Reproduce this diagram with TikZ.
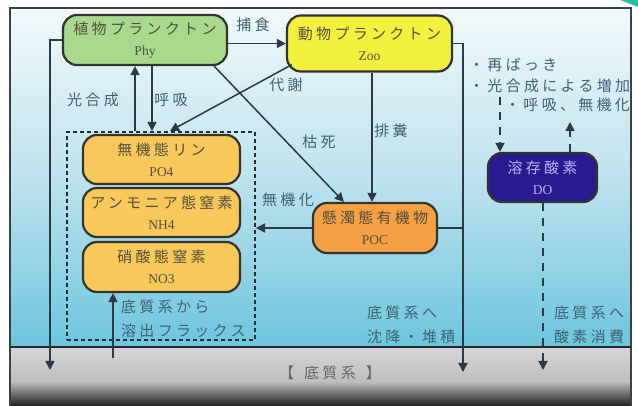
\documentclass[tikz,border=0pt]{standalone}
\usepackage{fontspec}
\setmainfont{Liberation Serif}
\newfontfamily\jp[LetterSpace=22]{Noto Sans CJK JP}
\usetikzlibrary{arrows.meta,calc}
\definecolor{wa}{HTML}{F2F9FB}
\definecolor{wb}{HTML}{BDE2EE}
\definecolor{wc}{HTML}{6CC5DD}
\definecolor{sa}{HTML}{D6D6D6}
\definecolor{sb}{HTML}{BEBEBE}
\definecolor{sc}{HTML}{1E1E1E}
\definecolor{edge}{HTML}{33342C}
\definecolor{lnc}{HTML}{2C3A44}
\definecolor{lab}{HTML}{3F6272}
\definecolor{ntx}{HTML}{55503E}
\definecolor{phyc}{HTML}{A8D98C}
\definecolor{zooc}{HTML}{F4F03E}
\definecolor{nutc}{HTML}{F8C85A}
\definecolor{pocc}{HTML}{F5A043}
\definecolor{doc}{HTML}{2A1A92}
\definecolor{dotx}{HTML}{B4B4EC}
\definecolor{teal}{HTML}{22C2A2}
\definecolor{frame}{HTML}{3A4248}
\newcommand{\lat}[1]{{\fontsize{13.5}{14}\selectfont #1}}
\begin{document}
\begin{tikzpicture}[x=1pt,y=-1pt,
  box/.style={draw=edge, line width=2.2pt, rounded corners=14pt, inner sep=0pt,
    align=center, text=ntx, font=\fontsize{15}{21}\selectfont},
  ln/.style={draw=lnc, line width=1.5pt},
  arr/.style={-{Triangle[length=9pt,width=9pt]}},
  dsh/.style={dash pattern=on 8pt off 7pt},
  lbl/.style={text=lab, font=\fontsize{15}{24}\selectfont\jp, inner sep=0pt},
  lbll/.style={lbl, anchor=west, align=left}]
\useasboundingbox (0,0) rectangle (638,406);
% background
\fill[white] (0,0) rectangle (638,406);
\shade[top color=wa, bottom color=wb] (10,8) rectangle (631,180);
\shade[top color=wb, bottom color=wc] (10,179.5) rectangle (631,347);
\shade[top color=sa, bottom color=sb] (10,347) rectangle (631,382);
\shade[top color=sb, bottom color=sc] (10,381.5) rectangle (631,406);
\draw[frame, line width=2pt] (10,406) -- (10,8) -- (631,8) -- (631,406);
\draw[black!85, line width=1.5pt] (10,347) -- (631,347);
\fill[teal] (620,0) -- (638,0) -- (638,7) -- cycle;

% nodes
\node[box, fill=phyc, minimum width=164pt, minimum height=50pt] (phy) at (145,40)
  {{\jp 植物プランクトン}\\\lat{Phy}};
\node[box, fill=zooc, minimum width=165pt, minimum height=56pt] (zoo) at (369.5,43.5)
  {{\jp 動物プランクトン}\\\lat{Zoo}};
\node[draw=lnc!80!black, line width=2pt, dash pattern=on 4pt off 3pt,
  minimum width=188pt, minimum height=208pt, inner sep=0pt] (nut) at (161,236) {};
\node[box, fill=nutc, minimum width=157pt, minimum height=49pt] (po4) at (161.5,159.5)
  {{\jp 無機態リン}\\\lat{PO4}};
\node[box, fill=nutc, minimum width=157pt, minimum height=49pt] (nh4) at (161.5,212.5)
  {{\jp アンモニア態窒素}\\\lat{NH4}};
\node[box, fill=nutc, minimum width=157pt, minimum height=50pt] (no3) at (161.5,267)
  {{\jp 硝酸態窒素}\\\lat{NO3}};
\node[box, fill=pocc, minimum width=124pt, minimum height=50pt] (poc) at (375,228)
  {{\jp 懸濁態有機物}\\\lat{POC}};
\node[box, fill=doc, text=dotx, minimum width=109pt, minimum height=49pt] (do) at (542.5,177.5)
  {{\jp 溶存酸素}\\\lat{DO}};

% helper coordinates
\coordinate (pL) at (50,370);
\coordinate (zR) at (463,372);
\coordinate (xPh) at (135,0);
\coordinate (xRs) at (152,0);
\coordinate (xMe) at (170,0);
\coordinate (xEx) at (372,0);
\coordinate (fl0) at (113,358);
\coordinate (doA) at (500,97);
\coordinate (doB) at (570,122);
\coordinate (doC) at (543,370);

% connectors
\draw[ln,arr] (zoo.west -| phy.east) -- (zoo.west);
\draw[ln,arr] (phy.west) -| (pL);
\draw[ln,arr] (zoo.east) -| (zR);
\draw[ln] (poc.east) -- (poc.east -| zR);
\draw[ln,arr] (xPh |- nut.north) -- (xPh |- phy.south);
\draw[ln,arr] (xRs |- phy.south) -- (xRs |- nut.north);
\draw[ln,arr] ($(zoo.south west)+(6,-8)$) -- (xMe |- nut.north);
\draw[ln,arr] ($(phy.south east)+(-14,0)$) -- ($(poc.north west)+(32,0)$);
\draw[ln,arr] (xEx |- zoo.south) -- (xEx |- poc.north);
\draw[ln,arr] (poc.west) -- (poc.west -| nut.east);
\draw[ln,arr] (fl0) -- (fl0 |- no3.south);
\draw[ln,arr,dsh] (doA) -- (doA |- do.north);
\draw[ln,arr,dsh] (doB |- do.north) -- (doB);
\draw[ln,arr,dsh] (doC |- do.south) -- (doC);

% labels
\node[lbl] (l1) at (253,25) {捕食};
\node[lbl] (l2) at (93,100) {光合成};
\node[lbl] (l3) at (171,100) {呼吸};
\node[lbl] (l4) at (286,85) {代謝};
\node[lbl] (l5) at (319,142) {枯死};
\node[lbl] (l6) at (391,131) {排糞};
\node[lbl] (l7) at (288,200) {無機化};
\node[lbll] (l8) at (121,319) {底質系から\\溶出フラックス};
\node[lbll] (l9) at (367,325) {底質系へ\\沈降・堆積};
\begin{scope}
\clip (10,8) rectangle (630,406);
\node[lbll] (l10) at (469,65) {・再ばっき};
\node[lbll] (l11) at (469,86) {・光合成による増加};
\node[lbll] (l12) at (505,105) {・呼吸、無機化};
\node[lbll] (l13) at (554,325) {底質系へ\\酸素消費};
\end{scope}
\node[lbl, text=black!60] (l14) at (330,373) {【\hspace{10pt}底質系\hspace{10pt}】};
\end{tikzpicture}
\end{document}
